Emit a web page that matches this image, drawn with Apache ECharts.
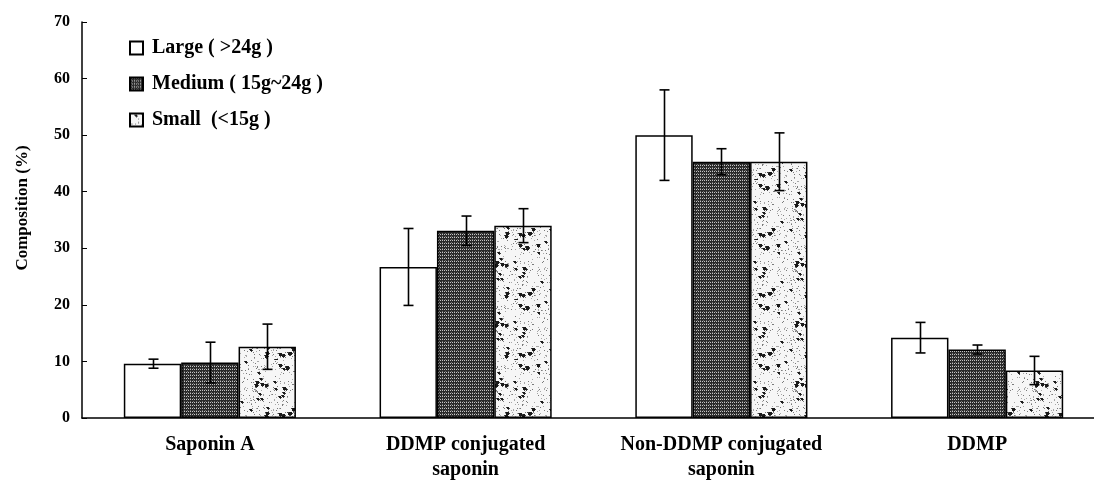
<!DOCTYPE html>
<html>
<head>
<meta charset="utf-8">
<script src="https://cdn.jsdelivr.net/npm/echarts@6/dist/echarts.min.js"></script>
<style>html,body{margin:0;padding:0;background:#fff}#c{width:1094px;height:480px}</style>
</head>
<body>
<div id="c"></div>
<script>
const categories = ['Saponin A', 'DDMP conjugated\nsaponin', 'Non-DDMP conjugated\nsaponin', 'DDMP'];
const seriesNames = ['Large ( >24g )', 'Medium ( 15g~24g )', 'Small  (<15g )'];
const largeMean = [9.6, 26.7, 50.0, 14.2];
const largeErr = [0.8, 6.8, 8.0, 2.7];
const mediumMean = [9.8, 33.1, 45.3, 12.1];
const mediumErr = [3.6, 2.6, 2.3, 0.8];
const smallMean = [12.6, 34.0, 45.3, 8.4];
const smallErr = [4.0, 3.0, 5.1, 2.5];
const yTicks = [0, 10, 20, 30, 40, 50, 60, 70];

const FONT = '"Liberation Serif", "Times New Roman", serif';
const GAP = 0.327;

function hash(i) { let x = (i + 1) * 2654435761 >>> 0; x ^= x >>> 13; x = Math.imul(x, 1274126177) >>> 0; x ^= x >>> 16; return x >>> 0; }

function mediumPattern() {
  const c = document.createElement('canvas'); c.width = 6; c.height = 3;
  const g = c.getContext('2d');
  g.fillStyle = '#2a2a2a'; g.fillRect(0, 0, 6, 3);
  g.fillStyle = '#c4c4c4';
  for (let x = 0; x < 6; x += 2) g.fillRect(x, 0, 1, 1);
  g.fillStyle = '#707070';
  for (let x = 1; x < 6; x += 3) g.fillRect(x, 2, 1, 1);
  return c;
}
function smallPattern() {
  const S = 60;
  const c = document.createElement('canvas'); c.width = S; c.height = S;
  const g = c.getContext('2d');
  g.fillStyle = '#f6f6f6'; g.fillRect(0, 0, S, S);
  for (let i = 0; i < 260; i++) {
    const x = hash(i * 3) % S, y = hash(i * 3 + 1) % S;
    g.fillStyle = (hash(i * 3 + 2) % 2) ? '#a8a8a8' : '#7a7a7a'; g.fillRect(x, y, 1, 1);
  }
  for (let i = 0; i < 34; i++) {
    const x = hash(900 + i * 3) % S, y = hash(900 + i * 3 + 1) % S, s = 2 + hash(900 + i * 3 + 2) % 2;
    g.fillStyle = '#1a1a1a'; g.fillRect(x, y, s, s);
    g.fillStyle = '#444'; g.fillRect(x + s, y + 1, 1, 1); g.fillRect(x - 1, y, 1, 1); g.fillRect(x + 1, y + s, 1, 1);
  }
  return c;
}

const fills = ['#ffffff', { image: mediumPattern(), repeat: 'repeat' }, { image: smallPattern(), repeat: 'repeat' }];
const means = [largeMean, mediumMean, smallMean];
const errs = [largeErr, mediumErr, smallErr];

function errSeries(idx) {
  return {
    type: 'custom',
    silent: true,
    z: 10,
    renderItem: function (params, api) {
      const c = api.value(0), lo = api.value(1), hi = api.value(2);
      const band = api.size([1, 0])[0];
      const bw = band * (1 - GAP) / 3;
      const off = (idx - 1) * bw;
      const pt = api.coord([c, hi]), pb = api.coord([c, lo]);
      const x = Math.round(pt[0] + off) + 0.5;
      const cap = 5;
      const st = { stroke: '#000', lineWidth: 1.6 };
      return {
        type: 'group',
        children: [
          { type: 'line', shape: { x1: x, y1: pt[1], x2: x, y2: pb[1] }, style: st },
          { type: 'line', shape: { x1: x - cap, y1: pt[1], x2: x + cap, y2: pt[1] }, style: st },
          { type: 'line', shape: { x1: x - cap, y1: pb[1], x2: x + cap, y2: pb[1] }, style: st }
        ]
      };
    },
    encode: { x: 0, y: [1, 2] },
    data: means[idx].map((m, i) => [i, +(m - errs[idx][i]).toFixed(2), +(m + errs[idx][i]).toFixed(2)])
  };
}

const barSeries = seriesNames.map((n, i) => ({
  name: n,
  type: 'bar',
  data: means[i],
  barGap: '0%',
  barCategoryGap: (GAP * 100) + '%',
  itemStyle: { color: fills[i], borderColor: '#000', borderWidth: 1.5 }
}));

const chart = echarts.init(document.getElementById('c'), null, { renderer: 'canvas' });
chart.setOption({
  animation: false,
  backgroundColor: '#fff',
  textStyle: { fontFamily: FONT },
  grid: { left: 82, width: 1023, top: 22, bottom: 62, containLabel: false, outerBoundsMode: 'none' },
  legend: {
    data: seriesNames,
    orient: 'vertical',
    left: 124,
    top: 31,
    itemWidth: 13,
    itemHeight: 13,
    itemGap: 12,
    icon: 'rect',
    selectedMode: false,
    textStyle: { fontFamily: FONT, fontWeight: 'bold', fontSize: 20, color: '#000', lineHeight: 24, padding: [0, 0, 0, 4] }
  },
  xAxis: {
    type: 'category',
    data: categories,
    axisLine: { lineStyle: { color: '#000', width: 1.5 } },
    axisTick: { inside: true, length: 6, lineStyle: { color: '#000', width: 1 } },
    axisLabel: { color: '#000', fontFamily: FONT, fontWeight: 'bold', fontSize: 20, lineHeight: 25, margin: 14, interval: 0 },
    splitLine: { show: false }
  },
  yAxis: {
    type: 'value',
    min: yTicks[0],
    max: yTicks[yTicks.length - 1],
    interval: 10,
    name: 'Composition (%)',
    nameLocation: 'middle',
    nameGap: 51,
    nameTextStyle: { color: '#000', fontFamily: FONT, fontWeight: 'bold', fontSize: 17, padding: [0, 0, 0, 24] },
    axisLine: { show: true, lineStyle: { color: '#000', width: 1.5 } },
    axisTick: { show: true, inside: true, length: 5, lineStyle: { color: '#000', width: 1 } },
    axisLabel: { color: '#000', fontFamily: FONT, fontWeight: 'bold', fontSize: 16, margin: 12 },
    splitLine: { show: false }
  },
  series: barSeries.concat([errSeries(0), errSeries(1), errSeries(2)])
});
</script>
</body>
</html>
